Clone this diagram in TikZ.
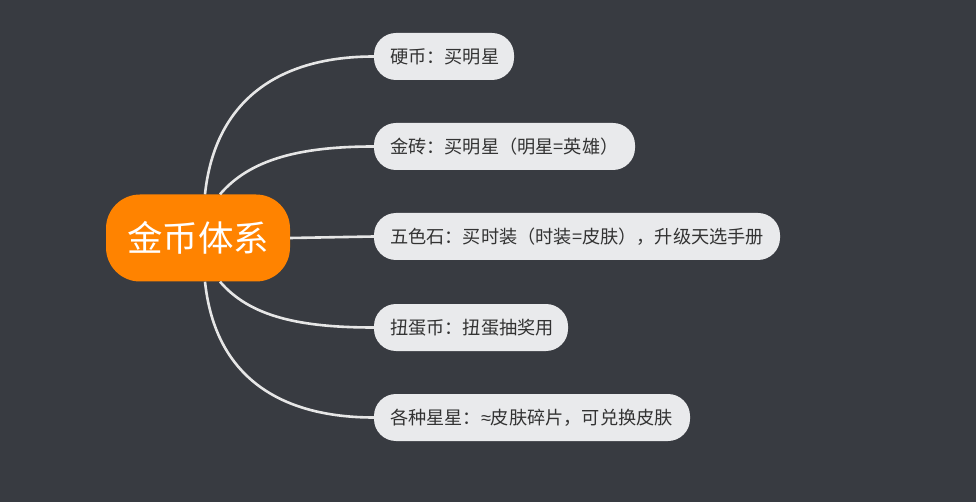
\documentclass[tikz,border=0pt]{standalone}
\usepackage{fontspec}
\setmainfont{Noto Sans CJK SC}
\newfontfamily\symf{Liberation Sans}
\usetikzlibrary{calc}
\definecolor{bgc}{HTML}{383B41}
\definecolor{boxc}{HTML}{E9EAEC}
\definecolor{txtc}{HTML}{333333}
\definecolor{rootc}{HTML}{FF8300}
\definecolor{linec}{HTML}{E6E6E6}
\begin{document}
\begin{tikzpicture}[x=1pt,y=-1pt,
  rootbox/.style={fill=rootc,text=white,rounded corners=34pt,minimum width=184pt,minimum height=87pt,inner sep=0pt,font=\fontsize{35.5pt}{40pt}\selectfont},
  leafbox/.style={fill=boxc,text=txtc,rounded corners=22pt,minimum height=47pt,inner xsep=16pt,inner ysep=0pt,align=left,font=\fontsize{18.2pt}{22pt}\selectfont},
  link/.style={draw=linec,line width=2.6pt}]
\fill[bgc] (0,0) rectangle (976,502);
\useasboundingbox (0,0) rectangle (976,502);
\node[rootbox] (root) at (198,238) {金币体系};
\node[leafbox,text width=108pt] (c1) at (444,56.5) {硬币：买明星};
\node[leafbox,text width=229pt] (c2) at (504.5,146.5) {金砖：买明星（明星=英雄）};
\node[leafbox,text width=374pt] (c3) at (577,236.5) {五色石：买时装（时装=皮肤），升级天选手册};
\node[leafbox,text width=162pt] (c4) at (471,327.5) {扭蛋币：扭蛋抽奖用};
\node[leafbox,text width=284pt] (c5) at (532,417.5) {各种星星：{\symf ≈}皮肤碎片，可兑换皮肤};
\coordinate (s1) at ($(root.north)+(7,0)$);
\coordinate (s2) at ($(root.north)+(22,0)$);
\coordinate (s4) at ($(root.south)+(22,0)$);
\coordinate (s5) at ($(root.south)+(7,0)$);
\draw[link] (s1) .. controls ($(s1)+(10,-95)$) and ($(c1.west)+(-94,0)$) .. (c1.west);
\draw[link] (s2) .. controls ($(s2)+(30,-35)$) and ($(c2.west)+(-74,0)$) .. (c2.west);
\draw[link] (root.east) -- (c3.west);
\draw[link] (s4) .. controls ($(s4)+(30,35)$) and ($(c4.west)+(-74,0)$) .. (c4.west);
\draw[link] (s5) .. controls ($(s5)+(10,95)$) and ($(c5.west)+(-94,0)$) .. (c5.west);
\end{tikzpicture}
\end{document}
